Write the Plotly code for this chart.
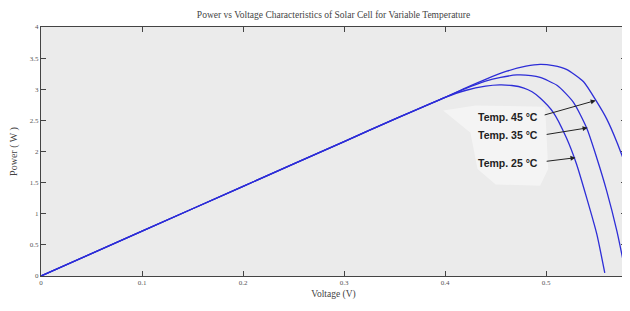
import plotly.graph_objects as go

# ---- data ----
v_25 = [0, 0.1, 0.2, 0.3, 0.35, 0.4, 0.42, 0.44, 0.454, 0.466, 0.478, 0.486, 0.494, 0.507, 0.52, 0.53, 0.54, 0.55, 0.558]
p_25 = [0, 0.72, 1.44, 2.16, 2.52, 2.87, 2.98, 3.05, 3.07, 3.06, 3.02, 2.96, 2.86, 2.63, 2.22, 1.80, 1.26, 0.68, 0.05]

v_35 = [0, 0.1, 0.2, 0.3, 0.35, 0.4, 0.42, 0.44, 0.455, 0.471, 0.485, 0.494, 0.511, 0.527, 0.54, 0.55, 0.56, 0.57, 0.579]
p_35 = [0, 0.72, 1.44, 2.16, 2.52, 2.87, 3.01, 3.13, 3.19, 3.23, 3.22, 3.19, 3.06, 2.79, 2.38, 1.90, 1.36, 0.72, 0.02]

v_45 = [0, 0.1, 0.2, 0.3, 0.35, 0.4, 0.42, 0.44, 0.461, 0.48, 0.494, 0.507, 0.52, 0.537, 0.55, 0.56, 0.57, 0.58]
p_45 = [0, 0.72, 1.44, 2.16, 2.52, 2.87, 3.02, 3.16, 3.29, 3.37, 3.40, 3.38, 3.32, 3.12, 2.80, 2.52, 2.15, 1.72]

x_ticks = [0, 0.1, 0.2, 0.3, 0.4, 0.5]
x_tick_labels = ["0", "0.1", "0.2", "0.3", "0.4", "0.5"]
y_ticks = [0, 0.5, 1, 1.5, 2, 2.5, 3, 3.5, 4]
y_tick_labels = ["0", "0.5", "1", "1.5", "2", "2.5", "3", "3.5", "4"]

labels = ["Temp. 45 °C", "Temp. 35 °C", "Temp. 25 °C"]
label_pos = [(0.494, 2.56), (0.494, 2.26), (0.494, 1.82)]
arrow_tail = [(0.497, 2.58), (0.499, 2.27), (0.499, 1.84)]
arrow_head = [(0.549, 2.82), (0.541, 2.38), (0.529, 1.90)]

line_color = "rgb(45,45,215)"

fig = go.Figure()

# faint light backing patch behind the labels (as in the reference image)
fig.add_shape(type="path", xref="x", yref="y", layer="below",
              path="M 0.398 2.66 L 0.43 2.74 L 0.499 2.72 L 0.502 1.72 L 0.494 1.45 "
                   "L 0.45 1.47 L 0.432 1.72 L 0.425 2.3 Z",
              fillcolor="rgba(255,255,255,0.45)", line=dict(width=0))

for v, p in [(v_25, p_25), (v_35, p_35), (v_45, p_45)]:
    fig.add_trace(go.Scatter(x=v, y=p, mode="lines",
                             line=dict(color=line_color, width=1.3, shape="spline", smoothing=0.6),
                             showlegend=False, hoverinfo="skip"))

for txt, (tx, ty) in zip(labels, label_pos):
    fig.add_annotation(x=tx, y=ty, text="<b>" + txt + "</b>", showarrow=False,
                       xanchor="right", yanchor="middle",
                       font=dict(family="Liberation Sans", size=10.5, color="#222"))
for (ax_, ay_), (hx, hy) in zip(arrow_tail, arrow_head):
    fig.add_annotation(x=hx, y=hy, ax=ax_, ay=ay_, xref="x", yref="y",
                       axref="x", ayref="y", text="", showarrow=True,
                       arrowhead=2, arrowsize=1, arrowwidth=1, arrowcolor="#222")

axis_common = dict(showgrid=False, zeroline=False, showline=True, linecolor="#444",
                   linewidth=1, mirror="ticks", ticks="inside", ticklen=5,
                   tickcolor="#444", automargin=False,
                   tickfont=dict(family="Liberation Serif", size=7, color="#555"))

fig.update_xaxes(range=[0, 0.579], tickvals=x_ticks, ticktext=x_tick_labels,
                 title=dict(text="Voltage (V)", font=dict(family="Liberation Serif", size=9.5, color="#444"),
                            standoff=3),
                 **axis_common)
fig.update_yaxes(range=[0, 4], tickvals=y_ticks, ticktext=y_tick_labels,
                 title=dict(text="Power ( W )", font=dict(family="Liberation Serif", size=10, color="#444"),
                            standoff=14),
                 **axis_common)

# the page body adds an 8px offset, so the figure is sized to fit the 630x311 window
fig.update_layout(
    width=622, height=303,
    margin=dict(l=33, r=4, t=19, b=35),
    paper_bgcolor="white", plot_bgcolor="#ebebeb",
    title=dict(text="Power vs Voltage Characteristics of Solar Cell for Variable Temperature",
               x=0.5, xref="paper", xanchor="center", y=0.977, yanchor="middle",
               font=dict(family="Liberation Serif", size=9.5, color="#444")),
)

fig.write_html("out.html")
